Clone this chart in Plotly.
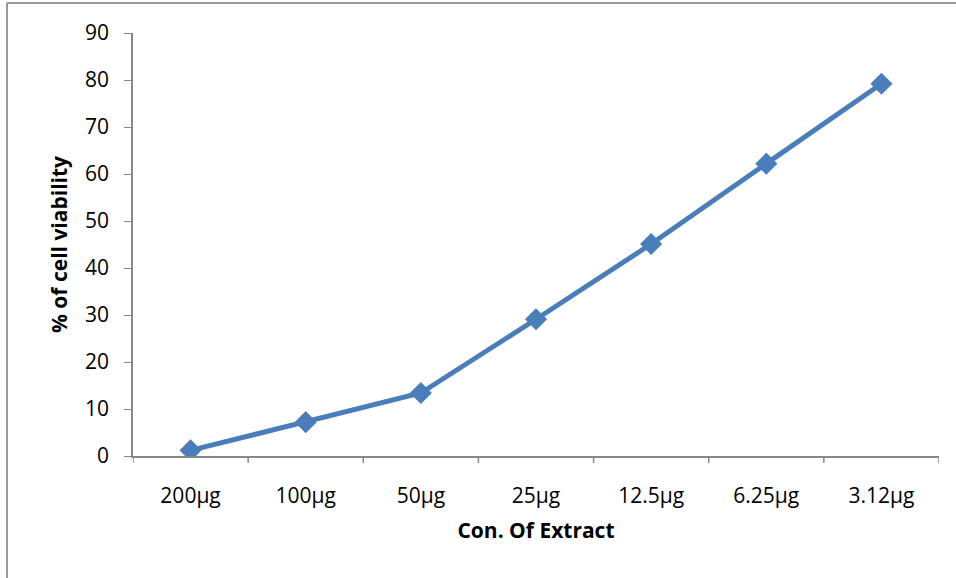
import plotly.graph_objects as go

concentrations = ["200µg", "100µg", "50µg", "25µg", "12.5µg", "6.25µg", "3.12µg"]
viability = [1.2, 7.2, 13.4, 29.1, 45.1, 62.2, 79.2]
y_ticks = [0, 10, 20, 30, 40, 50, 60, 70, 80, 90]

W, H = 956, 578
L, R, T, B = 133, 17, 33, 122
pw, ph = W - L - R, H - T - B

fig = go.Figure()
fig.add_trace(go.Scatter(
    x=concentrations, y=viability, mode="lines+markers",
    line=dict(color="#4A7EBB", width=5),
    marker=dict(symbol="diamond", size=17, color="#4A7EBB"),
    showlegend=False, hoverinfo="skip",
))

font_family = "'Open Sans', Lato, sans-serif"
axis_col = "#888888"

fig.update_layout(
    width=W, height=H,
    margin=dict(l=L, r=R, t=T, b=B),
    plot_bgcolor="white", paper_bgcolor="white",
    font=dict(family=font_family, size=22, color="black"),
    xaxis=dict(
        type="category", range=[-0.5, 6.5],
        showline=True, linecolor=axis_col, linewidth=1.5,
        ticks="", showgrid=False, zeroline=False,
        tickfont=dict(size=21), ticklabelstandoff=20,
        title=dict(text="<b>Con. Of Extract</b>", font=dict(size=21), standoff=15),
    ),
    yaxis=dict(
        range=[0, 90], tickvals=y_ticks,
        showline=True, linecolor=axis_col, linewidth=1.5,
        ticks="outside", ticklen=7, tickcolor=axis_col, showgrid=False, zeroline=False,
        tickfont=dict(size=21), ticklabelstandoff=11,
        title=dict(text="<b>% of cell viability</b>", font=dict(size=21), standoff=12),
    ),
)

# x-axis tick marks between categories (Excel style)
for i in range(8):
    fig.add_shape(type="line", xref="x", yref="paper",
                  x0=i - 0.5, x1=i - 0.5, y0=0, y1=-7 / ph,
                  line=dict(color=axis_col, width=1.5))

# outer chart frame (left and top edges visible)
fx = (7 - L) / pw
fy = (H - B - 3) / ph
fig.add_shape(type="line", xref="paper", yref="paper",
              x0=fx, x1=fx, y0=fy, y1=-(B + 5) / ph,
              line=dict(color="#999999", width=2))
fig.add_shape(type="line", xref="paper", yref="paper",
              x0=fx, x1=(W - L + 5) / pw, y0=fy, y1=fy,
              line=dict(color="#999999", width=2))

fig.write_html("out.html", config={"displayModeBar": False},
               post_script="document.body.style.margin='0';document.body.style.overflow='hidden';")
